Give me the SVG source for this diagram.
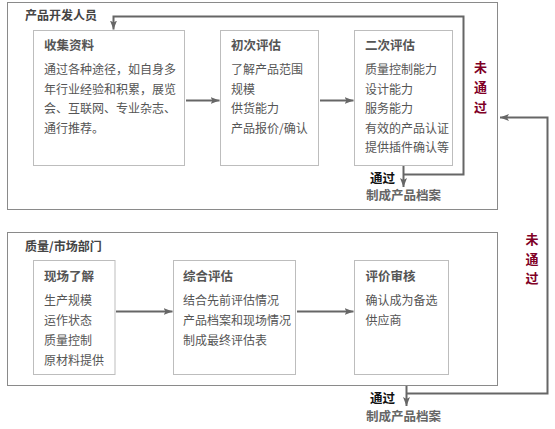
<svg xmlns="http://www.w3.org/2000/svg" width="555" height="429" viewBox="0 0 555 429">
<style>
text{font-family:"Noto Sans CJK SC","Noto Sans CJK JP",sans-serif;font-size:12px;fill:#555}
.sec{font-weight:bold;fill:#444;font-size:12px}
.ttl{font-weight:bold;fill:#555;font-size:12.5px}
.pass{font-weight:bold;fill:#111;font-size:12.5px}
.doc{font-weight:bold;fill:#666;font-size:12.5px}
.fail{font-weight:bold;fill:#800026;font-size:13px;text-anchor:middle}
.outer{fill:#fff;stroke:#8a8a8a;stroke-width:1}
.box{fill:#fff;stroke:#bdbdbd;stroke-width:1}
.con{fill:none;stroke:#666;stroke-width:2}
</style>
<defs>
<marker id="ah" markerUnits="userSpaceOnUse" markerWidth="10" markerHeight="8" refX="9" refY="4" orient="auto">
<path d="M0,0.5 L9,4 L0,7.5 L2,4 Z" fill="#666"/>
</marker>
</defs>
<rect width="555" height="429" fill="#fff"/>
<g id="section-dev">
<rect class="outer" x="7.5" y="2.5" width="490" height="207"/>
<text class="sec" x="25" y="19.5">产品开发人员</text>
</g>
<g id="section-qm">
<rect class="outer" x="7.5" y="232.5" width="490" height="153"/>
<text class="sec" x="25" y="251">质量/市场部门</text>
</g>
<g id="node-collect">
<rect class="box" x="33.5" y="30.5" width="151" height="135"/>
<text class="ttl" x="44" y="50">收集资料</text>
<text x="44" y="74">通过各种途径，如自身多</text>
<text x="44" y="93.5">年行业经验和积累，展览</text>
<text x="44" y="113">会、互联网、专业杂志、</text>
<text x="44" y="132.5">通行推荐。</text>
</g>
<g id="node-first">
<rect class="box" x="220.5" y="30.5" width="98" height="135"/>
<text class="ttl" x="231" y="50">初次评估</text>
<text x="231" y="74">了解产品范围</text>
<text x="231" y="93.5">规模</text>
<text x="231" y="113">供货能力</text>
<text x="231" y="132.5">产品报价/确认</text>
</g>
<g id="node-second">
<rect class="box" x="354.5" y="30.5" width="98" height="135"/>
<text class="ttl" x="365" y="50">二次评估</text>
<text x="365" y="74">质量控制能力</text>
<text x="365" y="93.5">设计能力</text>
<text x="365" y="113">服务能力</text>
<text x="365" y="132.5">有效的产品认证</text>
<text x="365" y="152">提供插件确认等</text>
</g>
<g id="node-site">
<rect class="box" x="33.5" y="260.5" width="81.5" height="114"/>
<text class="ttl" x="44" y="280.5">现场了解</text>
<text x="44" y="304.5">生产规模</text>
<text x="44" y="324.5">运作状态</text>
<text x="44" y="344.5">质量控制</text>
<text x="44" y="364.5">原材料提供</text>
</g>
<g id="node-overall">
<rect class="box" x="173.5" y="260.5" width="122" height="114"/>
<text class="ttl" x="183" y="280.5">综合评估</text>
<text x="183" y="304.5">结合先前评估情况</text>
<text x="183" y="324.5">产品档案和现场情况</text>
<text x="183" y="344.5">制成最终评估表</text>
</g>
<g id="node-review">
<rect class="box" x="354.5" y="260.5" width="94" height="114"/>
<text class="ttl" x="365.5" y="280.5">评价审核</text>
<text x="365.5" y="304.5">确认成为备选</text>
<text x="365.5" y="324.5">供应商</text>
</g>
<g id="connectors">
<path class="con" d="M186,100.5 H219.5" marker-end="url(#ah)"/>
<path class="con" d="M320,100.5 H353.5" marker-end="url(#ah)"/>
<path class="con" d="M116,311.5 H172.5" marker-end="url(#ah)"/>
<path class="con" d="M297,311.5 H353.5" marker-end="url(#ah)"/>
<path class="con" d="M403.5,166 V187" marker-end="url(#ah)"/>
<path class="con" d="M403.5,174.5 H463.5 V16.5 H113.5 V29.5" marker-end="url(#ah)"/>
<path class="con" d="M406.5,386 V406" marker-end="url(#ah)"/>
<path class="con" d="M406.5,393.5 H547.5 V117.5 H500" marker-end="url(#ah)"/>
<text class="fail" x="480.5" y="71.5">未</text>
<text class="fail" x="480.5" y="91.5">通</text>
<text class="fail" x="480.5" y="111.5">过</text>
<text class="pass" x="370" y="182.5">通过</text>
<text class="doc" x="366" y="200">制成产品档案</text>
<text class="fail" x="532" y="243.5">未</text>
<text class="fail" x="532" y="263.5">通</text>
<text class="fail" x="532" y="283">过</text>
<text class="pass" x="370" y="402.5">通过</text>
<text class="doc" x="366" y="421">制成产品档案</text>
</g>
</svg>
